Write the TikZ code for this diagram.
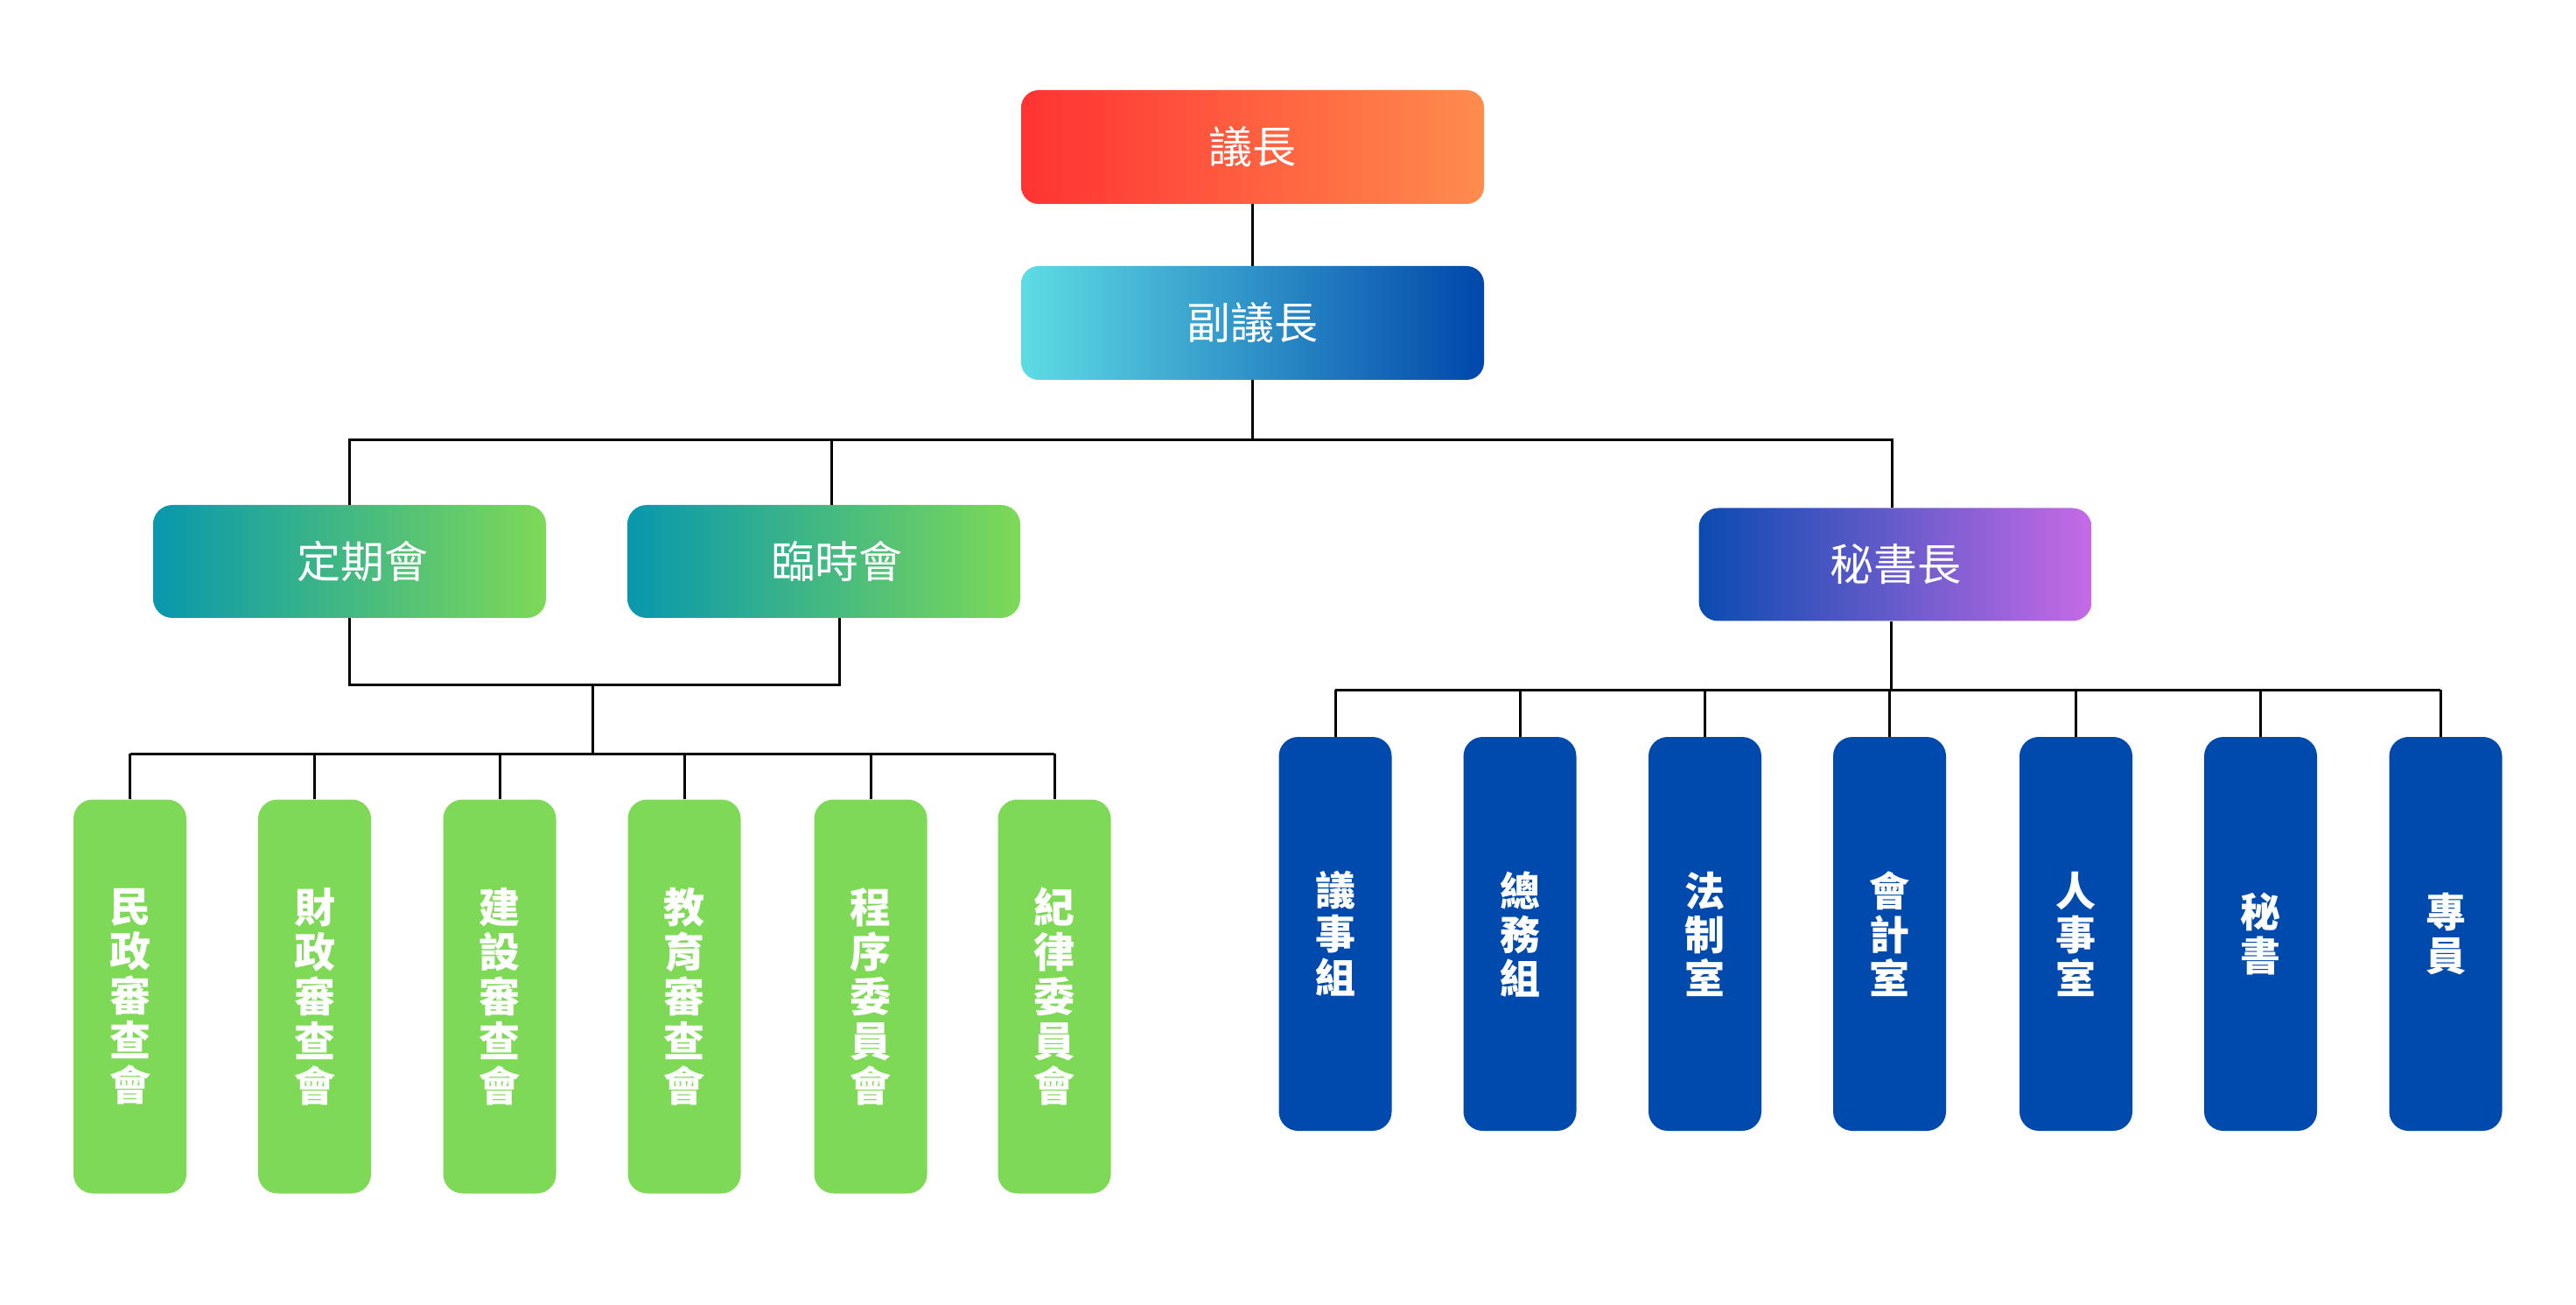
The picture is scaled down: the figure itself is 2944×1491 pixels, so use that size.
\documentclass[tikz,border=0pt]{standalone}
\usepackage{fontspec}
\setmainfont{Noto Sans CJK TC}
\definecolor{redL}{HTML}{FF3333}
\definecolor{redR}{HTML}{FF8C4D}
\definecolor{cyanL}{HTML}{5EDCE4}
\definecolor{navyR}{HTML}{0047AB}
\definecolor{tealL}{HTML}{0898AD}
\definecolor{limeR}{HTML}{7ED957}
\definecolor{royalL}{HTML}{0A4BB0}
\definecolor{violetR}{HTML}{C66AE6}
\definecolor{grn}{HTML}{7ED957}
\definecolor{blu}{HTML}{004AAD}
\begin{document}
\begin{tikzpicture}[x=0.5pt,y=-0.5pt,
  topbox/.style={rounded corners=10pt, minimum width=264.5pt, minimum height=65pt, inner sep=0pt,
    text=white, font=\fontsize{25}{29}\selectfont},
  midbox/.style={rounded corners=11pt, minimum width=224.5pt, minimum height=64.5pt, inner sep=0pt,
    text=white, font=\fontsize{25}{29}\selectfont},
  vbox/.style={rounded corners=11pt, minimum width=64.5pt, minimum height=225pt, inner sep=0pt,
    text=white, align=center, font=\bfseries\fontsize{23.5}{25.5}\selectfont},
  gbox/.style={vbox, fill=grn},
  bbox/.style={vbox, fill=blu, font=\bfseries\fontsize{23}{25}\selectfont},
  conn/.style={line width=1.5pt, black}]
\path[use as bounding box, fill=white] (0,0) rectangle (2944,1491);

% top levels
\node[topbox, left color=redL, right color=redR] (yz) at (1431.5,168) {議長};
\node[topbox, left color=cyanL, right color=navyR] (fyz) at (1431.5,369) {副議長};
\node[midbox, left color=tealL, right color=limeR] (dqh) at (399.5,641.5) {\hspace*{15pt}定期會};
\node[midbox, left color=tealL, right color=limeR] (lsh) at (941.5,641.5) {\hspace*{15pt}臨時會};
\node[midbox, left color=royalL, right color=violetR] (msz) at (2166,645) {秘書長};

% green committees
\node[gbox] (g1) at (148.5,1138.5) {民\\政\\審\\查\\會};
\node[gbox] (g2) at (359.5,1138.5) {財\\政\\審\\查\\會};
\node[gbox] (g3) at (571,1138.5) {建\\設\\審\\查\\會};
\node[gbox] (g4) at (782,1138.5) {教\\育\\審\\查\\會};
\node[gbox] (g5) at (995,1138.5) {程\\序\\委\\員\\會};
\node[gbox] (g6) at (1205,1138.5) {紀\\律\\委\\員\\會};

% blue offices
\node[bbox] (b1) at (1526,1067) {議\\事\\組};
\node[bbox] (b2) at (1737,1067) {總\\務\\組};
\node[bbox] (b3) at (1948.5,1067) {法\\制\\室};
\node[bbox] (b4) at (2159.5,1067) {會\\計\\室};
\node[bbox] (b5) at (2372.5,1067) {人\\事\\室};
\node[bbox] (b6) at (2583.5,1067) {秘\\書};
\node[bbox] (b7) at (2795,1067) {專\\員};

% bus coordinates and attachment points
\coordinate (busA) at (1431.5,503);
\coordinate (busB) at (677,782);
\coordinate (busC) at (677,861);
\coordinate (busD) at (2161,788);
\coordinate (lshT) at ([xshift=4.25pt]lsh.north);
\coordinate (lshB) at ([xshift=8.75pt]lsh.south);
\coordinate (mszT) at ([xshift=-2pt]msz.north);
\coordinate (mszB) at ([xshift=-2.5pt]msz.south);
\coordinate (b7T) at ([xshift=-3pt]b7.north);

% connectors
\draw[conn] (yz.south) -- (fyz.north);
\draw[conn] (fyz.south) -- (busA);
\draw[conn] (dqh.north) -- (dqh.north |- busA) -- (mszT |- busA) -- (mszT);
\draw[conn] (lshT) -- (lshT |- busA);

\draw[conn] (dqh.south) -- (dqh.south |- busB) -- (lshB |- busB) -- (lshB);
\draw[conn] (busB) -- (busC);
\draw[conn] (g1.north |- busC) -- (g6.north |- busC);
\foreach \g in {g1,g2,g3,g4,g5,g6} \draw[conn] (\g.north |- busC) -- (\g.north);

\draw[conn] (mszB) -- (mszB |- busD);
\draw[conn] (b1.north |- busD) -- (b7T |- busD);
\foreach \b in {b1,b2,b3,b4,b5,b6} \draw[conn] (\b.north |- busD) -- (\b.north);
\draw[conn] (b7T |- busD) -- (b7T);
\end{tikzpicture}
\end{document}
